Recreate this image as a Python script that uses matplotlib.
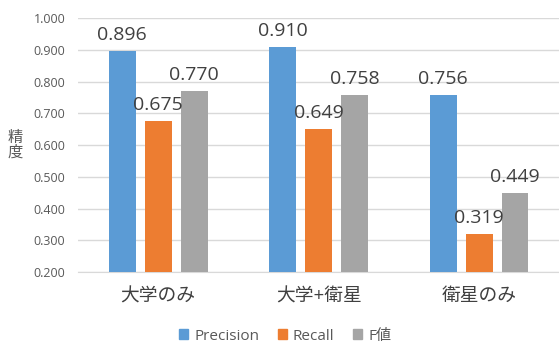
import numpy as np
import matplotlib
matplotlib.use("Agg")
import matplotlib.pyplot as plt
from matplotlib.patches import Patch

plt.rcParams['font.family'] = ['Open Sans', 'Noto Sans CJK JP', 'DejaVu Sans']

# data
categories = ['大学のみ', '大学+衛星', '衛星のみ']
series_names = ['Precision', 'Recall', 'F値']
precision = [0.896, 0.910, 0.756]
recall = [0.675, 0.649, 0.319]
f_value = [0.770, 0.758, 0.449]
yticks = [0.2, 0.3, 0.4, 0.5, 0.6, 0.7, 0.8, 0.9, 1.0]

colors = ['#5B9BD5', '#ED7D31', '#A5A5A5']

fig = plt.figure(figsize=(5.59, 3.43), dpi=100)
ax = fig.add_axes([0.1395, 0.207, 0.861, 0.7405])

x = np.arange(len(categories))
width = 0.168
step = 0.224
for i, vals in enumerate([precision, recall, f_value]):
    pos = x + (i - 1) * step
    ax.bar(pos, vals, width, color=colors[i], zorder=3)
    for p, v in zip(pos, vals):
        ax.annotate('%.3f' % v, (p, v), xytext=(0, 13), textcoords='offset points',
                    ha='center', va='center_baseline', fontsize=14, color='#404040', zorder=4)

ax.set_xlim(-0.5, 2.5)
ax.set_ylim(0.2, 1.0)
ax.set_yticks(yticks)
ax.set_yticklabels(['%.3f' % t for t in yticks], fontsize=9, color='#595959')
ax.set_xticks(x)
ax.set_xticklabels(categories, fontsize=13.5, color='#404040')
ax.tick_params(axis='both', length=0)
ax.tick_params(axis='y', pad=9)
ax.tick_params(axis='x', pad=11)
ax.grid(axis='y', color='#D9D9D9', linewidth=1, zorder=0)
for s in ['top', 'right', 'left']:
    ax.spines[s].set_visible(False)
ax.spines['bottom'].set_color('#D9D9D9')

fig.text(0.027, 0.575, '精\n度', fontsize=11, color='#595959', ha='center', va='center',
         linespacing=1.0)

handles = [Patch(color=c) for c in colors]
fig.legend(handles, series_names, loc='center', bbox_to_anchor=(0.51, 0.02), ncol=3,
           frameon=False, fontsize=11, handlelength=0.6, handleheight=0.6,
           handletextpad=0.4, columnspacing=1.2, labelcolor='#595959')

fig.savefig('out.png', dpi=100)
